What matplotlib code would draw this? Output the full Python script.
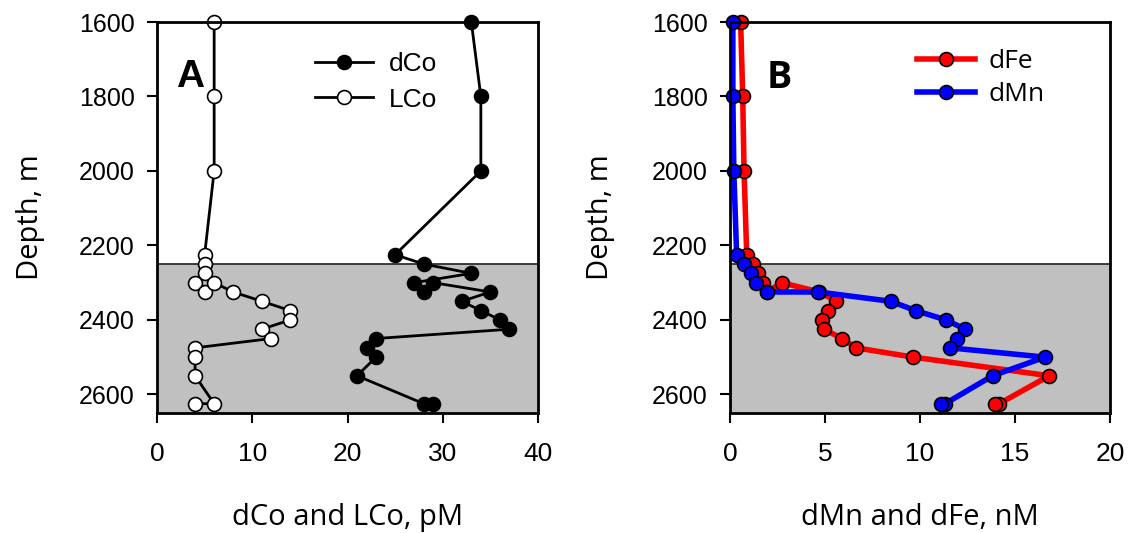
import numpy as np
import matplotlib.pyplot as plt

# panel A: cobalt (pM)
depth_co = [1600, 1800, 2000, 2225, 2250, 2275, 2300, 2325, 2300, 2325,
            2350, 2375, 2400, 2425, 2450, 2475, 2500, 2550, 2625, 2625]
dco = [33, 34, 34, 25, 28, 33, 27, 28, 29, 35,
       32, 34, 36, 37, 23, 22, 23, 21, 28, 29]
lco = [6, 6, 6, 5, 5, 5, 4, 5, 6, 8,
       11, 14, 14, 11, 12, 4, 4, 4, 6, 4]

# panel B: iron and manganese (nM)
depth_fe = [1600, 1800, 2000, 2225, 2250, 2275, 2300, 2325, 2300, 2325,
            2350, 2375, 2400, 2425, 2450, 2475, 2500, 2550, 2625, 2625]
dfe = [0.56, 0.67, 0.74, 0.88, 1.23, 1.49, 1.75, 1.95, 2.72, 4.7,
       5.6, 5.14, 4.83, 4.93, 5.91, 6.63, 9.65, 16.8, 14.17, 13.96]
depth_mn = [1600, 1800, 2000, 2225, 2250, 2275, 2300, 2325, 2325,
            2350, 2375, 2400, 2425, 2450, 2475, 2500, 2550, 2625, 2625]
dmn = [0.15, 0.15, 0.2, 0.35, 0.74, 1.1, 1.35, 1.96, 4.65,
       8.46, 9.77, 11.37, 12.37, 11.96, 11.58, 16.58, 13.82, 11.32, 11.09]

yticks = [1600, 1800, 2000, 2200, 2400, 2600]
plume_top = 2250
y_bottom = 2650

GREY = "#C0C0C0"
TICK_FONT = "Liberation Sans"
LABEL_FONT = "Open Sans"

plt.rcParams["font.family"] = TICK_FONT

fig = plt.figure(figsize=(11.3, 5.33), dpi=100)
axA = fig.add_axes([157 / 1130, 120 / 533, 381 / 1130, 391 / 533])
axB = fig.add_axes([730 / 1130, 120 / 533, 380 / 1130, 391 / 533])


def style_axis(ax, xmax, xstep):
    ax.set_ylim(y_bottom, 1600)
    ax.set_xlim(0, xmax)
    ax.set_yticks(yticks)
    ax.set_xticks(np.arange(0, xmax + 0.1, xstep))
    ax.axhspan(plume_top, y_bottom, color=GREY, zorder=0)
    ax.axhline(plume_top, color="#222222", lw=1.2, zorder=1)
    for s in ax.spines.values():
        s.set_linewidth(2.0)
        s.set_zorder(5)
    ax.tick_params(direction="out", length=7, width=1.5,
                   top=False, right=False)
    ax.tick_params(axis="y", labelsize=18, pad=9)
    ax.tick_params(axis="x", labelsize=19, pad=14)
    ax.set_ylabel("Depth, m", fontsize=21, family=LABEL_FONT)
    ax.yaxis.label.set_va("center")
    ax.xaxis.label.set_va("center")


# ---- panel A
style_axis(axA, 40, 10)
axA.plot(dco, depth_co, "-o", color="black", lw=2, ms=10, mfc="black",
         mec="black", mew=1.2, label="dCo", clip_on=False, zorder=3)
axA.plot(lco, depth_co, "-o", color="black", lw=2, ms=10, mfc="white",
         mec="black", mew=1.2, label="LCo", clip_on=False, zorder=3)
axA.set_xlabel("dCo and LCo, pM", fontsize=21, family=LABEL_FONT)
axA.xaxis.set_label_coords(0.5, -0.266)
axA.yaxis.set_label_coords(-0.333, 0.5)
axA.text(0.087, 0.859, "A", transform=axA.transAxes, fontsize=28,
         fontweight="bold", ha="center", va="center")
axA.legend(loc="upper left", bbox_to_anchor=(0.415, 0.922), frameon=False,
           fontsize=19, handlelength=2.2, handletextpad=0.6,
           labelspacing=0.42, borderpad=0, borderaxespad=0)

# ---- panel B
style_axis(axB, 20, 5)
axB.plot(dfe, depth_fe, "-o", color="#FF0000", lw=4, ms=10, mfc="#FF0000",
         mec="black", mew=1.2, label="dFe", clip_on=False, zorder=3)
axB.plot(dmn, depth_mn, "-o", color="#0000FF", lw=4, ms=10, mfc="#0000FF",
         mec="black", mew=1.2, label="dMn", clip_on=False, zorder=4)
axB.set_xlabel("dMn and dFe, nM", fontsize=21, family=LABEL_FONT)
axB.xaxis.set_label_coords(0.5, -0.266)
axB.yaxis.set_label_coords(-0.342, 0.5)
axB.text(0.13, 0.857, "B", transform=axB.transAxes, fontsize=27,
         fontweight="bold", ha="center", va="center", family=LABEL_FONT)
axB.legend(loc="upper left", bbox_to_anchor=(0.492, 0.93), frameon=False,
           prop={"family": LABEL_FONT, "size": 19}, handlelength=2.2,
           handletextpad=0.5, labelspacing=0.28, borderpad=0,
           borderaxespad=0)

fig.savefig("out.png", dpi=100)
